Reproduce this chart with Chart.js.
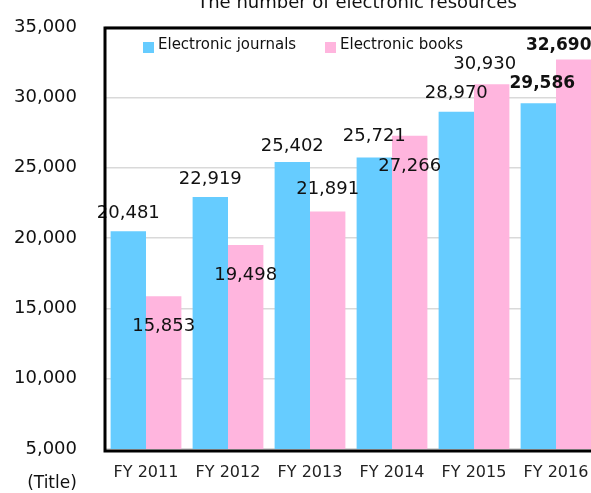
<!DOCTYPE html>
<html>
<head>
<meta charset="utf-8">
<script src="https://cdn.jsdelivr.net/npm/chart.js"></script>
<style>
  html, body { margin: 0; padding: 0; background: #fff; overflow: hidden; }
  #wrap { width: 597px; height: 493px; }
</style>
</head>
<body>
<div id="wrap"><canvas id="chart" width="597" height="493"></canvas></div>
<script>
const years = ['FY 2011', 'FY 2012', 'FY 2013', 'FY 2014', 'FY 2015', 'FY 2016'];
const journals = [20481, 22919, 25402, 25721, 28970, 29586];
const books = [15853, 19498, 21891, 27266, 30930, 32690];
const seriesNames = ['Electronic journals', 'Electronic books'];
const yTicks = [5000, 10000, 15000, 20000, 25000, 30000, 35000];

const FONT = '"DejaVu Sans", Verdana, sans-serif';

// where each value label sits relative to the top of its bar
const labelShift = [
    { dx: [0, 0, 0, 0, 0, 4], dy: [-18, -18, -16, -21, -18, -20] },
    { dx: [0, 0, 0, 0, -7, -15], dy: [30, 30, -22, 31, -20, -14] }
];

const valueLabels = {
    id: 'valueLabels',
    afterDatasetsDraw(chart) {
        const ctx = chart.ctx;
        ctx.save();
        ctx.textAlign = 'center';
        ctx.textBaseline = 'middle';
        ctx.fillStyle = '#111';
        chart.data.datasets.forEach((ds, di) => {
            const meta = chart.getDatasetMeta(di);
            meta.data.forEach((bar, i) => {
                const last = i === ds.data.length - 1;
                ctx.font = last ? 'bold 17px ' + FONT : '18px ' + FONT;
                ctx.fillText(ds.data[i].toLocaleString('en-US'),
                    bar.x + labelShift[di].dx[i], bar.y + labelShift[di].dy[i]);
            });
        });
        ctx.restore();
    }
};

const frameAndText = {
    id: 'frameAndText',
    afterDraw(chart) {
        const ctx = chart.ctx;
        const a = chart.chartArea;
        ctx.save();
        // plot frame
        ctx.strokeStyle = '#000';
        ctx.lineWidth = 3;
        ctx.strokeRect(a.left, a.top + 1, a.right - a.left, a.bottom - a.top + 1);

        // legend inside the plot
        ctx.font = '15px ' + FONT;
        ctx.textBaseline = 'middle';
        ctx.textAlign = 'left';
        const legendX = [143, 325];
        chart.data.datasets.forEach((ds, i) => {
            ctx.fillStyle = ds.backgroundColor;
            ctx.fillRect(legendX[i], 42, 11, 11);
            ctx.fillStyle = '#111';
            ctx.fillText(ds.label, legendX[i] + 15, 45);
        });

        // title, cut by the top edge
        ctx.font = '18px ' + FONT;
        ctx.textAlign = 'center';
        ctx.textBaseline = 'alphabetic';
        ctx.fillStyle = '#111';
        ctx.fillText('The number of electronic resources', 357, 8);

        // axis caption
        ctx.font = '17px ' + FONT;
        ctx.textBaseline = 'middle';
        ctx.fillText('(Title)', 52, 484);
        ctx.restore();
    }
};

new Chart(document.getElementById('chart'), {
    type: 'bar',
    data: {
        labels: years,
        datasets: [
            { label: seriesNames[0], data: journals, backgroundColor: '#66CCFF' },
            { label: seriesNames[1], data: books, backgroundColor: '#FFB5DE' }
        ]
    },
    options: {
        responsive: false,
        animation: false,
        layout: { padding: { top: 27, right: 0, left: 0, bottom: 0 } },
        categoryPercentage: 0.863,
        barPercentage: 1,
        plugins: {
            legend: { display: false },
            tooltip: { enabled: false },
            title: { display: false }
        },
        scales: {
            x: {
                grid: { display: false },
                border: { display: false },
                ticks: { color: '#222', font: { family: FONT, size: 16 }, padding: 6, maxRotation: 0 },
                afterFit(scale) { scale.height = 44; }
            },
            y: {
                min: yTicks[0],
                max: yTicks[yTicks.length - 1],
                afterBuildTicks(scale) { scale.ticks = yTicks.map(v => ({ value: v })); },
                grid: { color: '#d9d9d9', lineWidth: 1.5, drawTicks: false },
                border: { display: false },
                ticks: {
                    color: '#111',
                    font: { family: FONT, size: 18 },
                    padding: 28,
                    callback: v => v.toLocaleString('en-US')
                },
                afterFit(scale) {
                    scale.width = 105;
                    scale.paddingTop = 0;
                    scale.paddingBottom = 0;
                }
            }
        }
    },
    plugins: [valueLabels, frameAndText]
});
</script>
</body>
</html>
